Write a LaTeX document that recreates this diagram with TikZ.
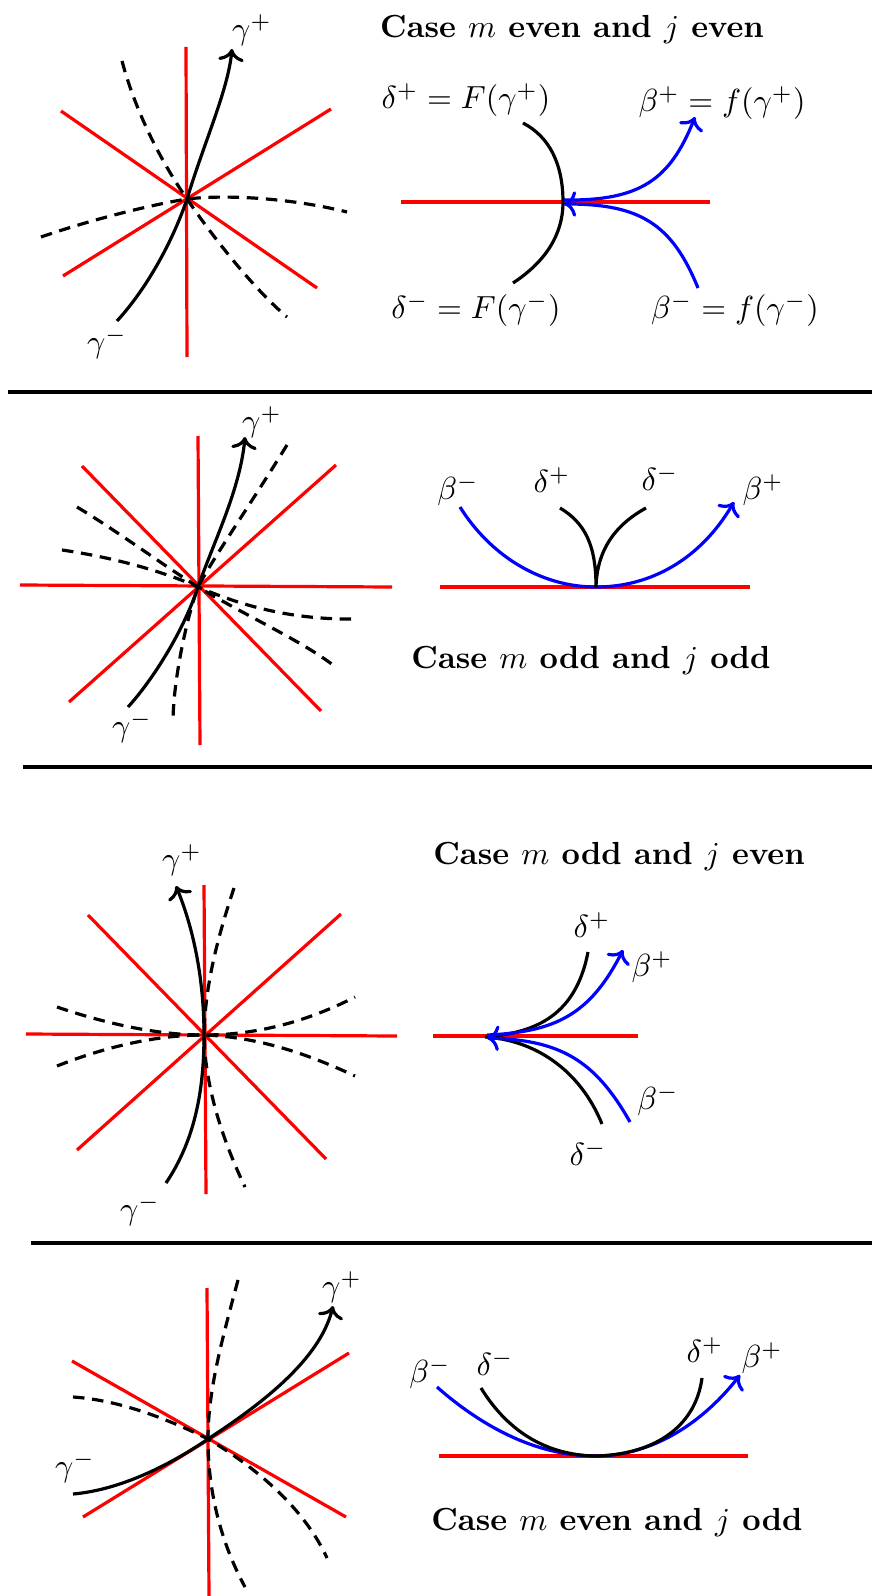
\documentclass[tikz,border=0pt]{standalone}
\usepackage{amsmath, amssymb}
\usepackage{xcolor}
\usepackage{tikz}
\usetikzlibrary{positioning, arrows.meta}

\begin{document}
\begin{tikzpicture}[x=0.011cm, y=-0.011cm,
  ray/.style={red, line width=1pt},
  orbit/.style={black, line width=1pt},
  ghost/.style={black, line width=1pt, dash pattern=on 3.6pt off 2.4pt},
  flow/.style={blue, line width=1pt},
  separator/.style={black, line width=1.4pt},
  casetitle/.style={anchor=base, font=\bfseries}]
\useasboundingbox (0,0) rectangle (872,1596);

% case m even, j even
\coordinate (O1) at (187,199);
\coordinate (P1) at (563,202);
\draw[ray] (186,47) -- (187,357);
\draw[ray] (61,111) -- (317,288);
\draw[ray] (63,276) -- (331,109);
\draw[ghost] (122,61) .. controls (135,110) and (160,160) .. (O1) .. controls (215,240) and (255,290) .. (287,317);
\draw[ghost] (41,237) .. controls (90,220) and (150,205) .. (O1) .. controls (230,194) and (295,199) .. (347,212);
\draw[orbit, ->] (117,321) .. controls (150,285) and (175,235) .. (O1) .. controls (205,140) and (228,90) .. (232,49);
\node (gammaP1) at (252,30) {$\gamma^+$};
\node (gammaM1) at (107,343) {$\gamma^-$};
\node[casetitle] (title1) at (572,38) {Case $m$ even and $j$ even};
\draw[ray] (401,202) -- (710,202);
\draw[orbit] (523,123) .. controls (550,137) and (563,165) .. (P1) .. controls (563,235) and (545,262) .. (513,283);
\draw[flow, ->] (564,200) .. controls (640,201) and (670,180) .. (695,117);
\draw[flow, ->] (698,288) .. controls (672,224) and (640,204) .. (564,204);
\node (deltaP1) at (466,100) {$\delta^+ = F(\gamma^+)$};
\node (deltaM1) at (476,310) {$\delta^- = F(\gamma^-)$};
\node (betaP1) at (722,103) {$\beta^+ = f(\gamma^+)$};
\node (betaM1) at (735,310) {$\beta^- = f(\gamma^-)$};
\draw[separator] (8,392) -- (872,392);

% case m odd, j odd
\coordinate (O2) at (198,587);
\coordinate (P2) at (596,587);
\draw[ray] (198,436) -- (200,745);
\draw[ray] (20,585) -- (392,587);
\draw[ray] (82,466) -- (321,711);
\draw[ray] (69,702) -- (336,465);
\draw[ghost] (287,445) .. controls (250,505) and (212,560) .. (O2) .. controls (187,617) and (173,680) .. (173,723);
\draw[ghost] (77,507) .. controls (120,533) and (160,563) .. (O2) .. controls (250,618) and (300,640) .. (333,665);
\draw[ghost] (62,550) .. controls (110,557) and (160,570) .. (O2) .. controls (240,605) and (290,620) .. (356,619);
\draw[orbit, ->] (128,707) .. controls (150,683) and (182,635) .. (O2) .. controls (214,541) and (240,490) .. (245,437);
\node (gammaP2) at (262,422) {$\gamma^+$};
\node (gammaM2) at (132,727) {$\gamma^-$};
\draw[ray] (440,587) -- (750,587);
\draw[flow, ->] (460,507) .. controls (490,555) and (540,587) .. (P2) .. controls (650,587) and (700,560) .. (734,502);
\draw[orbit] (560,508) .. controls (585,523) and (596,545) .. (P2) .. controls (597,550) and (615,525) .. (646,508);
\node (betaM2) at (458,490) {$\beta^-$};
\node (deltaP2) at (552,480) {$\delta^+$};
\node (deltaM2) at (660,478) {$\delta^-$};
\node (betaP2) at (763,490) {$\beta^+$};
\node[casetitle] (title2) at (591,668) {Case $m$ odd and $j$ odd};
\draw[separator] (23,767) -- (872,767);

% case m odd, j even
\coordinate (O3) at (204,1035);
\coordinate (P3) at (485,1037);
\draw[ray] (204,885) -- (206,1194);
\draw[ray] (26,1034) -- (397,1036);
\draw[ray] (88,915) -- (326,1159);
\draw[ray] (77,1150) -- (341,914);
\draw[ghost] (234,888) .. controls (215,945) and (205,990) .. (O3) .. controls (205,1090) and (225,1145) .. (245,1187);
\draw[ghost] (57,1007) .. controls (110,1025) and (160,1035) .. (O3) .. controls (260,1035) and (310,1020) .. (355,997);
\draw[ghost] (57,1066) .. controls (110,1045) and (160,1035) .. (O3) .. controls (260,1037) and (310,1055) .. (355,1076);
\draw[orbit, ->] (166,1183) .. controls (195,1140) and (204,1090) .. (O3) .. controls (204,970) and (190,920) .. (176,886);
\node (gammaP3) at (182,860) {$\gamma^+$};
\node (gammaM3) at (140,1210) {$\gamma^-$};
\node[casetitle] (title3) at (619,864) {Case $m$ odd and $j$ even};
\draw[ray] (433,1036) -- (638,1036);
\draw[orbit] (588,952) .. controls (575,1020) and (530,1033) .. (P3) .. controls (535,1040) and (580,1070) .. (602,1124);
\draw[flow, ->] (487,1035) .. controls (555,1032) and (590,1015) .. (623,950);
\draw[flow, ->] (630,1122) .. controls (595,1060) and (560,1040) .. (487,1038);
\node (deltaP3) at (592,925) {$\delta^+$};
\node (betaP3) at (652,967) {$\beta^+$};
\node (betaM3) at (658,1100) {$\beta^-$};
\node (deltaM3) at (588,1153) {$\delta^-$};
\draw[separator] (31,1243) -- (872,1243);

% case m even, j odd
\coordinate (O4) at (208,1439);
\coordinate (P4) at (595,1456);
\draw[ray] (207,1288) -- (209,1596);
\draw[ray] (72,1361) -- (346,1517);
\draw[ray] (83,1517) -- (349,1353);
\draw[ghost] (238,1280) .. controls (222,1340) and (208,1390) .. (O4) .. controls (208,1500) and (225,1550) .. (245,1587);
\draw[ghost] (73,1397) .. controls (120,1400) and (170,1420) .. (O4) .. controls (260,1470) and (305,1510) .. (327,1558);
\draw[orbit, ->] (73,1494) .. controls (120,1490) and (170,1465) .. (O4) .. controls (260,1405) and (320,1360) .. (333,1306);
\node (gammaP4) at (342,1287) {$\gamma^+$};
\node (gammaM4) at (75,1467) {$\gamma^-$};
\draw[ray] (439,1456) -- (748,1456);
\draw[flow, ->] (437,1387) .. controls (480,1425) and (535,1456) .. (P4) .. controls (655,1456) and (705,1420) .. (740,1375);
\draw[orbit] (481,1388) .. controls (510,1435) and (550,1455) .. (P4) .. controls (650,1455) and (695,1430) .. (702,1378);
\node (betaM4) at (430,1373) {$\beta^-$};
\node (deltaM4) at (495,1363) {$\delta^-$};
\node (deltaP4) at (705,1350) {$\delta^+$};
\node (betaP4) at (762,1358) {$\beta^+$};
\node[casetitle] (title4) at (617,1530) {Case $m$ even and $j$ odd};
\end{tikzpicture}
\end{document}
